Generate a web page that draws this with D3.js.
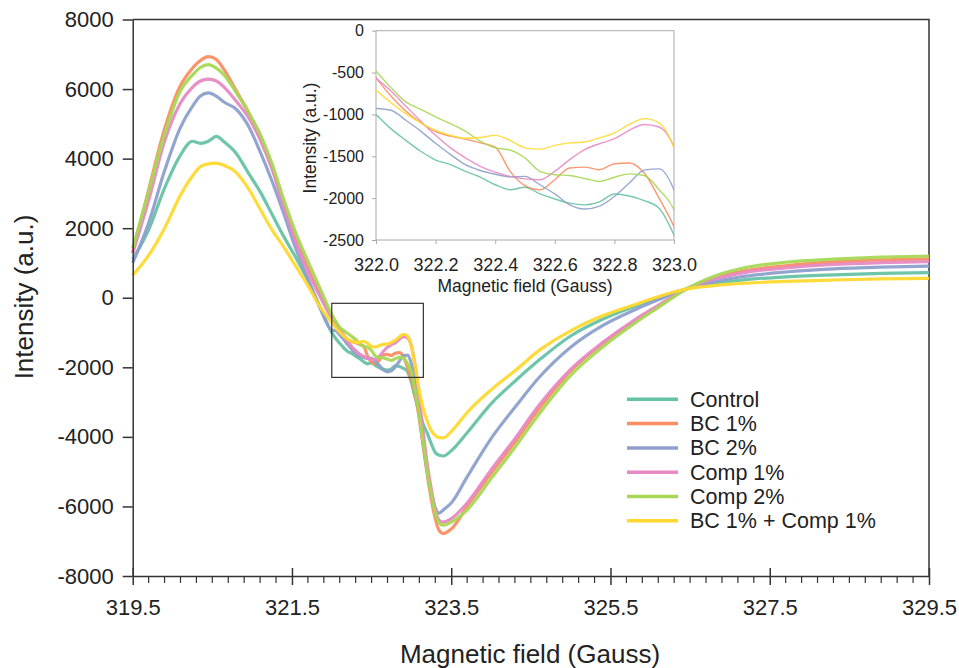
<!DOCTYPE html>
<html>
<head>
<meta charset="utf-8">
<script src="https://cdn.jsdelivr.net/npm/d3@7/dist/d3.min.js"></script>
<style>
  html, body { margin: 0; padding: 0; background: #fff; }
  svg { display: block; font-family: "Liberation Sans", Arial, sans-serif; }
</style>
</head>
<body>
<svg id="chart" width="959" height="668"></svg>
<script>
// ---------- DATA ----------
const fields = [
  319.5, 319.7, 319.9, 320.1, 320.25, 320.35, 320.45, 320.55, 320.65, 320.8, 320.95, 321.1, 321.25, 321.4, 321.55, 321.7, 321.85,
  322.0, 322.05, 322.1, 322.15, 322.2, 322.25, 322.3, 322.35, 322.4, 322.45, 322.5, 322.55, 322.6, 322.65, 322.7, 322.75, 322.8, 322.85, 322.9, 322.95, 323.0,
  323.05, 323.1, 323.15, 323.2, 323.25, 323.3, 323.35, 323.4, 323.5, 323.7, 324.0, 324.3, 324.6, 325.0, 325.4, 325.8, 326.1, 326.45, 326.8, 327.2, 327.7, 328.3, 328.9, 329.5
];
const control = [
  1100, 1950, 3150, 4100, 4500, 4440, 4500, 4640, 4480, 4150, 3600, 3050, 2400, 1750, 1150, 500, -250,
  -1000, -1170, -1310, -1440, -1545, -1600, -1680, -1750, -1840, -1900, -1870, -1950, -2010, -2060, -2080, -2045, -1950, -1975, -2030, -2120, -2440,
  -2900, -3300, -3650, -3900, -4200, -4450, -4530, -4550, -4400, -3880, -3050, -2400, -1800, -1100, -620, -250, 0, 250, 410, 520, 600, 660, 700, 720
];
const bc1 = [
  1300, 3100, 4850, 6100, 6600, 6820, 6930, 6850, 6550, 5950, 5350, 4620, 3740, 2660, 1680, 870, 140,
  -560, -780, -960, -1100, -1205, -1260, -1295, -1340, -1390, -1680, -1850, -1900, -1780, -1640, -1630, -1660, -1590, -1580, -1700, -2000, -2340,
  -2800, -3500, -4300, -5100, -5800, -6350, -6700, -6780, -6650, -6000, -5050, -4150, -3200, -2100, -1320, -680, -250, 250, 560, 780, 920, 1030, 1090, 1120
];
const bc2 = [
  1000, 2150, 3650, 4900, 5500, 5800, 5890, 5800, 5620, 5420, 4950, 4200, 3350, 2400, 1400, 550, -280,
  -930, -950, -1070, -1200, -1345, -1480, -1600, -1670, -1715, -1745, -1740, -1840, -1950, -2080, -2130, -2095, -1980, -1820, -1665, -1650, -1900,
  -2500, -3300, -4200, -5000, -5600, -6050, -6190, -6100, -5900, -5150, -4050, -3150, -2300, -1420, -800, -350, -60, 250, 460, 620, 740, 830, 880, 910
];
const comp1 = [
  1280, 2800, 4500, 5600, 6050, 6230, 6285, 6230, 6050, 5650, 5200, 4550, 3700, 2600, 1600, 750, 50,
  -570, -720, -900, -1080, -1250, -1400, -1520, -1620, -1690, -1740, -1770, -1780, -1680, -1540, -1420, -1350, -1290, -1190, -1120, -1150, -1390,
  -2000, -2900, -3900, -4800, -5500, -6100, -6400, -6450, -6350, -5900, -4950, -4050, -3100, -2060, -1290, -640, -220, 250, 540, 730, 860, 960, 1010, 1040
];
const comp2 = [
  1420, 3050, 4700, 5950, 6400, 6620, 6700, 6600, 6400, 5900, 5350, 4700, 3850, 2800, 1850, 1050, 280,
  -480, -680, -850, -940, -1030, -1110, -1200, -1320, -1400, -1425, -1520, -1680, -1720, -1730, -1765, -1800, -1750, -1710, -1730, -1900, -2140,
  -2700, -3400, -4200, -5000, -5650, -6200, -6480, -6540, -6450, -6100, -5200, -4300, -3350, -2230, -1420, -740, -280, 250, 620, 870, 1020, 1110, 1170, 1200
];
const bc1comp1 = [
  650, 1220, 2000, 2950, 3500, 3770, 3850, 3870, 3800, 3600, 3150, 2550, 1950, 1450, 900, 350, -250,
  -710, -860, -990, -1100, -1190, -1250, -1285, -1275, -1250, -1310, -1400, -1415, -1370, -1340, -1330, -1280, -1220, -1120, -1050, -1100, -1400,
  -2000, -2700, -3200, -3550, -3820, -3960, -4020, -4030, -3850, -3300, -2650, -2100, -1520, -950, -520, -200, 30, 250, 350, 420, 470, 510, 540, 560
];
const seriesNames = ["Control", "BC 1%", "BC 2%", "Comp 1%", "Comp 2%", "BC 1% + Comp 1%"];
const seriesValues = [control, bc1, bc2, comp1, comp2, bc1comp1];
const colors = ["#66c2a5", "#fc8d62", "#8da0cb", "#e78ac3", "#a6d854", "#ffd92f"];

const xTicks = [319.5, 321.5, 323.5, 325.5, 327.5, 329.5];
const yTicks = [-8000, -6000, -4000, -2000, 0, 2000, 4000, 6000, 8000];
const insetXTicks = [322.0, 322.2, 322.4, 322.6, 322.8, 323.0];
const insetYTicks = [-2500, -2000, -1500, -1000, -500, 0];
const zoomBox = { x0: 322.0, x1: 323.15, y0: -160, y1: -2290 };

// ---------- CHART ----------
const svg = d3.select("#chart");
const x = d3.scaleLinear([319.5, 329.5], [132.7, 929]);
const y = d3.scaleLinear([-8000, 8000], [576, 19.5]);
const intFmt = d => String(Math.round(d));      // ASCII hyphen-minus like the original
const decFmt = d => d.toFixed(1);

const axisColor = "#333";
const series = seriesNames.map((name, i) => ({
  name, color: colors[i],
  pts: fields.map((f, j) => ({ f, v: seriesValues[i][j] }))
}));

// frame top & right
svg.append("path")
  .attr("d", `M${x(319.5)},${y(8000)}H${x(329.5)}V${y(-8000)}`)
  .attr("fill", "none").attr("stroke", axisColor).attr("stroke-width", 1.5);

// lines
const line = d3.line().x(d => x(d.f)).y(d => y(d.v)).curve(d3.curveMonotoneX);
svg.append("g").selectAll("path").data(series).join("path")
  .attr("d", d => line(d.pts))
  .attr("fill", "none").attr("stroke", d => d.color)
  .attr("stroke-width", 3.2).attr("stroke-linejoin", "round").attr("stroke-opacity", 0.95);

// y axis
const gy = svg.append("g").attr("transform", `translate(${x(319.5)},0)`)
  .call(d3.axisLeft(y).tickValues(yTicks).tickSize(10).tickSizeOuter(0).tickPadding(9).tickFormat(intFmt));
gy.selectAll("path,line").attr("stroke", axisColor).attr("stroke-width", 1.5);
gy.selectAll("text").attr("font-size", 22).attr("fill", "#222").attr("font-family", "Liberation Sans, Arial, sans-serif");

// x axis
const gx = svg.append("g").attr("transform", `translate(0,${y(-8000)})`)
  .call(d3.axisBottom(x).tickValues(xTicks).tickSize(9).tickSizeOuter(0).tickFormat(decFmt));
gx.selectAll("path,line").attr("stroke", axisColor).attr("stroke-width", 1.5);
gx.selectAll(".tick line").attr("y1", -8);
gx.selectAll("text").attr("font-size", 22).attr("fill", "#222").attr("y", 39).attr("dy", 0)
  .attr("font-family", "Liberation Sans, Arial, sans-serif");
const minor = d3.range(0, 51).map(i => 319.5 + i * 0.2).filter((v, i) => i % 10 !== 0);
gx.append("g").selectAll("line").data(minor).join("line")
  .attr("x1", d => x(d)).attr("x2", d => x(d)).attr("y1", 0).attr("y2", 7)
  .attr("stroke", axisColor).attr("stroke-width", 1.2);

// axis titles
svg.append("text").attr("x", 530).attr("y", 663).attr("text-anchor", "middle")
  .attr("font-size", 26).attr("fill", "#222").text("Magnetic field (Gauss)");
svg.append("text").attr("transform", "translate(33,297) rotate(-90)").attr("text-anchor", "middle")
  .attr("font-size", 26).attr("fill", "#222").text("Intensity (a.u.)");

// zoom box
svg.append("rect")
  .attr("x", x(zoomBox.x0)).attr("y", y(zoomBox.y0))
  .attr("width", x(zoomBox.x1) - x(zoomBox.x0)).attr("height", y(zoomBox.y1) - y(zoomBox.y0))
  .attr("fill", "none").attr("stroke", "#333").attr("stroke-width", 1.2);

// legend
const lg = svg.append("g");
series.forEach((s, i) => {
  const cy = 399.3 + i * 24.3;
  lg.append("line").attr("x1", 627).attr("x2", 678).attr("y1", cy).attr("y2", cy)
    .attr("stroke", s.color).attr("stroke-width", 3.5);
  lg.append("text").attr("x", 690).attr("y", cy).attr("dy", "0.35em")
    .attr("font-size", 21.5).attr("fill", "#222").text(s.name);
});

// ---------- INSET ----------
const xi = d3.scaleLinear([322.0, 323.0], [376, 674]);
const yi = d3.scaleLinear([-2500, 0], [240, 30.7]);
const inset = svg.append("g");
inset.append("defs").append("clipPath").attr("id", "insetClip")
  .append("rect").attr("x", 376).attr("y", 30.7).attr("width", 298).attr("height", 209.3);
inset.append("rect").attr("x", 376).attr("y", 30.7).attr("width", 298).attr("height", 209.3)
  .attr("fill", "#fff").attr("stroke", "#aaa").attr("stroke-width", 1);
const iline = d3.line().x(d => xi(d.f)).y(d => yi(d.v)).curve(d3.curveMonotoneX);
inset.append("g").attr("clip-path", "url(#insetClip)")
  .selectAll("path").data(series).join("path")
  .attr("d", d => iline(d.pts.filter(p => p.f >= 321.95 && p.f <= 323.05)))
  .attr("fill", "none").attr("stroke", d => d.color).attr("stroke-width", 1.4).attr("stroke-opacity", 0.9);

const gyi = inset.append("g").attr("transform", "translate(376,0)")
  .call(d3.axisLeft(yi).tickValues(insetYTicks).tickSize(4).tickSizeOuter(0).tickPadding(8).tickFormat(intFmt));
gyi.select(".domain").remove();
gyi.selectAll("line").attr("stroke", "#aaa");
gyi.selectAll("text").attr("font-size", 16).attr("fill", "#222").attr("font-family", "Liberation Sans, Arial, sans-serif");

const gxi = inset.append("g").attr("transform", "translate(0,240)")
  .call(d3.axisBottom(xi).tickValues(insetXTicks).tickSize(4).tickSizeOuter(0).tickFormat(decFmt));
gxi.select(".domain").remove();
gxi.selectAll("line").attr("stroke", "#aaa");
gxi.selectAll("text").attr("font-size", 18).attr("fill", "#222").attr("y", 31).attr("dy", 0)
  .attr("font-family", "Liberation Sans, Arial, sans-serif");

inset.append("text").attr("x", 525).attr("y", 292).attr("text-anchor", "middle")
  .attr("font-size", 17.5).attr("fill", "#222").text("Magnetic field (Gauss)");
inset.append("text").attr("transform", "translate(316,138) rotate(-90)").attr("text-anchor", "middle")
  .attr("font-size", 17.5).attr("fill", "#222").text("Intensity (a.u.)");
</script>
</body>
</html>
